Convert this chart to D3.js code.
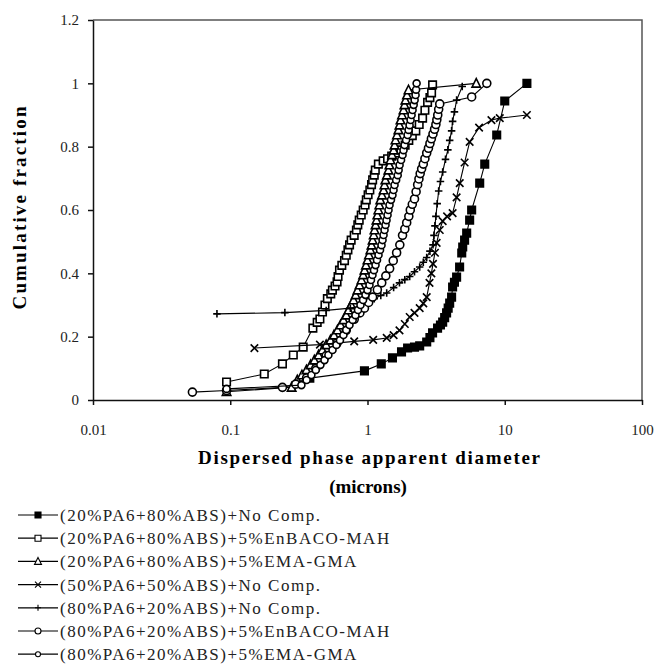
<!DOCTYPE html>
<html>
<head>
<meta charset="utf-8">
<script src="https://cdn.jsdelivr.net/npm/d3@7/dist/d3.min.js"></script>
<style>
  body { margin: 0; background: #fff; }
</style>
</head>
<body>
<div id="chart"></div>
<script>
/* values: [diameter (microns), cumulative fraction] */

var xTicks = [0.01, 0.1, 1, 10, 100];
var yTicks = [0, 0.2, 0.4, 0.6, 0.8, 1, 1.2];

var seriesNames = [
    "(20%PA6+80%ABS)+No Comp.",
    "(20%PA6+80%ABS)+5%EnBACO-MAH",
    "(20%PA6+80%ABS)+5%EMA-GMA",
    "(50%PA6+50%ABS)+No Comp.",
    "(80%PA6+20%ABS)+No Comp.",
    "(80%PA6+20%ABS)+5%EnBACO-MAH",
    "(80%PA6+20%ABS)+5%EMA-GMA"
];
var seriesMarkers = ["fsquare", "square", "triangle", "cross", "plus", "circle", "circle2"];

var pa20NoComp = [[0.38,0.069],[0.95,0.092],[1.26,0.114],[1.52,0.133],[1.77,0.152],[1.96,0.164],[2.2,0.167],
    [2.4,0.171],[2.7,0.183],[2.85,0.197],[2.98,0.212],[3.24,0.227],[3.4,0.237],[3.53,0.246],[3.65,0.26],
    [3.77,0.275],[3.87,0.29],[3.97,0.306],[4.1,0.325],[4.17,0.357],[4.3,0.372],[4.46,0.388],[4.69,0.42],
    [4.86,0.464],[4.94,0.483],[5.1,0.505],[5.28,0.527],[5.55,0.568],[5.74,0.6],[6.57,0.685],[7.15,0.745],
    [8.74,0.837],[10.0,0.944],[14.5,1.0]];

var pa20EnBACO = [[0.094,0.057],[0.177,0.082],[0.24,0.114],[0.288,0.142],[0.34,0.167],[0.40,0.227],[0.43,0.245],
    [0.45,0.256],[0.47,0.278],[0.49,0.30],[0.51,0.32],[0.54,0.335],[0.555,0.347],[0.58,0.36],[0.60,0.373],
    [0.61,0.39],[0.625,0.41],[0.65,0.425],[0.68,0.44],[0.70,0.457],[0.72,0.474],[0.74,0.49],[0.76,0.505],
    [0.80,0.52],[0.83,0.537],[0.85,0.553],[0.87,0.568],[0.90,0.584],[0.93,0.60],[0.96,0.616],[0.98,0.632],
    [1.01,0.648],[1.04,0.663],[1.07,0.68],[1.09,0.695],[1.12,0.71],[1.14,0.726],[1.2,0.745],[1.3,0.755],
    [1.4,0.762],[1.5,0.77],[1.62,0.78],[1.75,0.79],[1.88,0.805],[2.0,0.82],[2.12,0.835],[2.25,0.85],
    [2.38,0.87],[2.52,0.89],[2.62,0.915],[2.74,0.94],[2.85,0.955],[2.93,0.97],[2.98,0.995]];

var pa20EMA = [[0.094,0.026],[0.28,0.04],[0.308,0.063],[0.333,0.079],[0.359,0.095],[0.385,0.111],[0.41,0.126],
    [0.44,0.142],[0.469,0.158],[0.50,0.174],[0.537,0.189],[0.57,0.205],[0.604,0.221],[0.636,0.237],
    [0.668,0.253],[0.70,0.268],[0.727,0.284],[0.76,0.30],[0.791,0.316],[0.82,0.332],[0.845,0.347],
    [0.875,0.363],[0.904,0.379],[0.93,0.395],[0.951,0.41],[0.975,0.426],[1.0,0.442],[1.025,0.458],
    [1.05,0.474],[1.07,0.489],[1.09,0.505],[1.11,0.521],[1.125,0.537],[1.145,0.553],[1.163,0.568],
    [1.18,0.584],[1.2,0.60],[1.22,0.616],[1.24,0.632],[1.275,0.647],[1.31,0.663],[1.33,0.679],[1.35,0.695],
    [1.385,0.71],[1.42,0.726],[1.445,0.742],[1.47,0.758],[1.51,0.774],[1.55,0.789],[1.575,0.805],
    [1.60,0.821],[1.64,0.837],[1.68,0.853],[1.71,0.868],[1.74,0.884],[1.785,0.90],[1.83,0.916],
    [1.86,0.932],[1.89,0.947],[1.94,0.963],[1.99,0.979],[6.2,1.0]];

var pa50NoComp = [[0.15,0.164],[0.45,0.175],[0.8,0.185],[1.1,0.19],[1.38,0.196],[1.55,0.205],[1.71,0.22],
    [1.87,0.24],[2.03,0.262],[2.2,0.275],[2.4,0.29],[2.55,0.305],[2.7,0.325],[2.83,0.37],[2.92,0.40],
    [3.0,0.43],[3.1,0.465],[3.19,0.496],[3.36,0.537],[3.53,0.565],[3.8,0.58],[4.17,0.59],[4.46,0.64],
    [4.7,0.685],[5.1,0.75],[5.55,0.815],[6.5,0.86],[8.0,0.884],[9.2,0.89],[14.5,0.9]];

var pa80NoComp = [[0.08,0.272],[0.25,0.276],[0.5,0.283],[0.75,0.29],[0.95,0.30],[1.12,0.32],[1.25,0.33],
    [1.38,0.338],[1.55,0.355],[1.71,0.37],[1.87,0.38],[2.03,0.39],[2.2,0.405],[2.4,0.42],[2.55,0.435],
    [2.7,0.45],[2.85,0.47],[3.0,0.49],[3.05,0.52],[3.1,0.55],[3.15,0.58],[3.22,0.62],[3.3,0.66],[3.4,0.69],
    [3.53,0.72],[3.7,0.76],[3.85,0.79],[3.97,0.82],[4.1,0.85],[4.17,0.88],[4.3,0.91],[4.46,0.947],[4.9,0.99]];

var pa80EnBACO = [[0.053,0.025],[0.094,0.03],[0.24,0.04],[0.3,0.05],[0.36,0.07],[0.42,0.1],[0.5,0.14],
    [0.6,0.18],[0.7,0.22],[0.8,0.255],[0.88,0.275],[0.95,0.29],[1.02,0.308],[1.09,0.325],[1.18,0.348],
    [1.27,0.37],[1.36,0.392],[1.45,0.415],[1.54,0.44],[1.63,0.465],[1.72,0.49],[1.80,0.52],[1.87,0.54],
    [1.93,0.56],[2.0,0.58],[2.05,0.60],[2.12,0.618],[2.2,0.635],[2.26,0.658],[2.32,0.68],[2.37,0.698],
    [2.42,0.715],[2.48,0.73],[2.55,0.745],[2.62,0.762],[2.7,0.78],[2.78,0.795],[2.85,0.81],[2.92,0.825],
    [3.0,0.84],[3.08,0.855],[3.15,0.87],[3.2,0.885],[3.25,0.9],[3.3,0.918],[3.36,0.935],[5.74,0.957],[7.4,1.0]];

var pa80EMA = [[0.094,0.035],[0.33,0.047],[0.36,0.063],[0.39,0.079],[0.42,0.095],[0.454,0.111],[0.486,0.126],
    [0.519,0.142],[0.556,0.158],[0.594,0.174],[0.63,0.189],[0.668,0.205],[0.70,0.221],[0.739,0.237],
    [0.78,0.253],[0.817,0.268],[0.853,0.284],[0.889,0.30],[0.928,0.316],[0.967,0.332],[1.0,0.347],
    [1.034,0.363],[1.06,0.379],[1.087,0.395],[1.115,0.41],[1.144,0.426],[1.173,0.442],[1.203,0.458],
    [1.234,0.474],[1.265,0.489],[1.287,0.505],[1.309,0.521],[1.331,0.537],[1.353,0.553],[1.376,0.568],
    [1.40,0.584],[1.423,0.60],[1.447,0.616],[1.483,0.632],[1.52,0.647],[1.548,0.663],[1.574,0.679],
    [1.617,0.695],[1.66,0.71],[1.686,0.726],[1.713,0.742],[1.756,0.758],[1.80,0.774],[1.83,0.789],
    [1.862,0.805],[1.91,0.821],[1.96,0.837],[1.993,0.853],[2.026,0.868],[2.06,0.884],[2.095,0.90],
    [2.13,0.916],[2.17,0.932],[2.205,0.947],[2.24,0.963],[2.26,0.98],[2.28,1.0]];

var allSeries = [pa20NoComp, pa20EnBACO, pa20EMA, pa50NoComp, pa80NoComp, pa80EnBACO, pa80EMA];

/* layout */
var canvasWidth = 654, canvasHeight = 666;
var plotLeft = 93, plotRight = 642, plotTop = 20, plotBottom = 400;
var serif = "Liberation Serif";

var svg = d3.select("#chart")
    .append("svg")
    .attr("width", canvasWidth)
    .attr("height", canvasHeight)
    .attr("font-family", serif);

var x = d3.scaleLog().domain([0.01, 100]).range([plotLeft, plotRight]);
var y = d3.scaleLinear().domain([0, 1.2]).range([plotBottom, plotTop]);

// frame: top and right sides are grey
svg.append("path")
    .attr("d", "M" + plotLeft + "," + plotTop + "H" + plotRight + "V" + plotBottom)
    .style("fill", "none")
    .style("stroke", "#555")
    .style("stroke-width", 1.5);

var yAxis = svg.append("g")
    .attr("transform", "translate(" + plotLeft + ",0)")
    .call(d3.axisLeft(y).tickValues(yTicks).tickSize(5).tickSizeOuter(0).tickPadding(9)
        .tickFormat(function(d){ return String(d); }));

var xAxis = svg.append("g")
    .attr("transform", "translate(0," + plotBottom + ")")
    .call(d3.axisBottom(x).tickValues(xTicks).tickSize(5).tickSizeOuter(0).tickPadding(19)
        .tickFormat(function(d){ return String(d); }));

// d3 puts font-family="sans-serif" on the axis groups, take it back
yAxis.attr("font-family", serif);
xAxis.attr("font-family", serif);

svg.selectAll(".domain, .tick line")
    .style("stroke", "#111")
    .style("stroke-width", 1.5);
svg.selectAll(".tick text")
    .attr("font-family", serif)
    .attr("font-size", 15)
    .style("fill", "#222");

// axis titles
svg.append("text")
    .attr("transform", "translate(26,208) rotate(-90)")
    .attr("text-anchor", "middle")
    .attr("font-family", serif)
    .attr("font-size", 19)
    .attr("font-weight", "bold")
    .attr("textLength", 203)
    .attr("lengthAdjust", "spacing")
    .text("Cumulative fraction");

svg.append("text")
    .attr("x", 369)
    .attr("y", 464)
    .attr("text-anchor", "middle")
    .attr("font-family", serif)
    .attr("font-size", 19)
    .attr("font-weight", "bold")
    .attr("textLength", 342)
    .attr("lengthAdjust", "spacing")
    .text("Dispersed phase apparent diameter");

svg.append("text")
    .attr("x", 368)
    .attr("y", 493)
    .attr("text-anchor", "middle")
    .attr("font-family", serif)
    .attr("font-size", 19)
    .attr("font-weight", "bold")
    .text("(microns)");

/* marker shapes, drawn round (0,0) */
function markerPath(type, s) {
    var h = s / 2;
    if (type == "fsquare" || type == "square") {
        return "M" + (-h) + "," + (-h) + "h" + s + "v" + s + "h" + (-s) + "Z";
    }
    if (type == "triangle") {
        return "M0," + (-h - 1) + "L" + (h + 0.5) + "," + h + "L" + (-h - 0.5) + "," + h + "Z";
    }
    if (type == "cross") {
        return "M" + (-h) + "," + (-h) + "L" + h + "," + h + "M" + (-h) + "," + h + "L" + h + "," + (-h);
    }
    if (type == "plus") {
        return "M0," + (-h) + "V" + h + "M" + (-h) + ",0H" + h;
    }
    var r = type == "circle" ? h : h - 0.5;
    return "M" + r + ",0A" + r + "," + r + " 0 1,1 " + (-r) + ",0A" + r + "," + r + " 0 1,1 " + r + ",0Z";
}

function markerFill(type) {
    if (type == "fsquare") return "#000";
    if (type == "cross" || type == "plus") return "none";
    return "#fff";
}

var line = d3.line()
    .x(function(d){ return x(d[0]); })
    .y(function(d){ return y(d[1]); });

var plot = svg.append("g").attr("class", "series");

allSeries.forEach(function(data, i){
    var type = seriesMarkers[i];
    var g = plot.append("g");

    g.append("path")
        .datum(data)
        .attr("d", line)
        .style("fill", "none")
        .style("stroke", "#000")
        .style("stroke-width", 1.1);

    g.selectAll("path.mk")
        .data(data)
        .enter()
        .append("path")
        .attr("class", "mk")
        .attr("transform", function(d){ return "translate(" + x(d[0]) + "," + y(d[1]) + ")"; })
        .attr("d", markerPath(type, type == "circle" || type == "circle2" ? 8 : 7.5))
        .style("fill", markerFill(type))
        .style("stroke", "#000")
        .style("stroke-width", 1.6);
});

/* legend under the chart */
var legend = svg.append("g").attr("class", "legend");

seriesNames.forEach(function(name, i){
    var ly = 515 + i * 23.2;
    var row = legend.append("g").attr("transform", "translate(0," + ly + ")");
    row.append("line")
        .attr("x1", 18).attr("x2", 58)
        .style("stroke", "#000")
        .style("stroke-width", 1.2);
    row.append("path")
        .attr("transform", "translate(38,0)")
        .attr("d", markerPath(seriesMarkers[i], 6))
        .style("fill", markerFill(seriesMarkers[i]))
        .style("stroke", "#000")
        .style("stroke-width", 1.1);
    row.append("text")
        .attr("x", 60)
        .attr("dy", "0.35em")
        .attr("font-family", serif)
        .attr("font-size", 17)
        .style("letter-spacing", "1.5px")
        .style("fill", "#222")
        .text(name);
});
</script>
</body>
</html>
